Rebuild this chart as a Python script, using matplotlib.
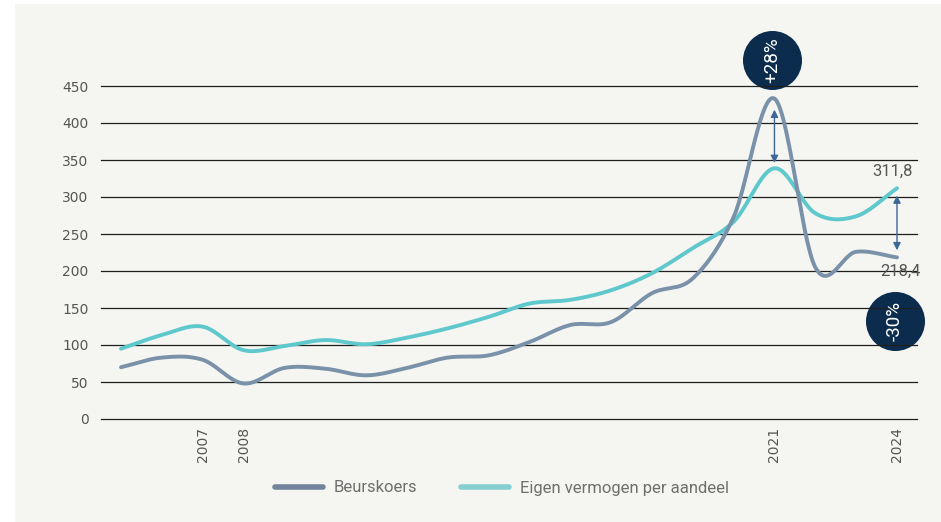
import numpy as np
import matplotlib
matplotlib.use("Agg")
import matplotlib.pyplot as plt
from matplotlib.lines import Line2D

years = list(range(2005, 2025))
beurskoers = [70, 83, 80, 48, 69, 68, 59, 69, 83, 86, 104, 127, 131, 170, 190, 273, 433, 205, 226, 218.4]
eigen_vermogen = [95, 113.5, 124.8, 93, 98.6, 106.7, 101, 110, 122.5, 138, 156, 161, 174, 197, 231, 266.6, 338.8, 278, 274, 311.8]
tick_years = [2007, 2008, 2021, 2024]
y_ticks = [0, 50, 100, 150, 200, 250, 300, 350, 400, 450]
series_names = ["Beurskoers", "Eigen vermogen per aandeel"]
badges = [("+28%", 2021, 485), ("-30%", 2024, 132)]
end_labels = [("311,8", 2024, 311.8), ("218,4", 2024, 218.4)]


def catmull_rom(x, y, n=30):
    x = np.asarray(x, float)
    y = np.asarray(y, float)
    m = np.empty_like(y)
    m[1:-1] = (y[2:] - y[:-2]) / 2
    m[0] = y[1] - y[0]
    m[-1] = y[-1] - y[-2]
    xs, ys = [], []
    for i in range(len(x) - 1):
        t = np.linspace(0, 1, n, endpoint=False)
        h00 = 2 * t**3 - 3 * t**2 + 1
        h10 = t**3 - 2 * t**2 + t
        h01 = -2 * t**3 + 3 * t**2
        h11 = t**3 - t**2
        xs.append(x[i] + t * (x[i + 1] - x[i]))
        ys.append(h00 * y[i] + h10 * m[i] + h01 * y[i + 1] + h11 * m[i + 1])
    xs.append([x[-1]])
    ys.append([y[-1]])
    return np.concatenate(xs), np.concatenate(ys)


plt.rcParams['font.family'] = ['DejaVu Sans']

fig = plt.figure(figsize=(9.41, 5.22), dpi=100)
fig.patch.set_facecolor('white')
bg = plt.Rectangle((15 / 941, 0), 1 - 15 / 941, 1 - 4 / 522, transform=fig.transFigure,
                   facecolor='#f5f5f1', edgecolor='none', zorder=-10)
fig.patches.append(bg)

ax = fig.add_axes([101 / 941, (522 - 419) / 522, 816 / 941, 333 / 522])
ax.set_facecolor('none')
ax.set_xlim(2004.51, 2024.49)
ax.set_ylim(0, 450)

for s in ax.spines.values():
    s.set_visible(False)

ax.set_yticks(y_ticks)
ax.set_yticklabels([str(v) for v in y_ticks], color='#555555', fontsize=10)
ax.tick_params(axis='y', length=0, pad=9)
for v in y_ticks:
    ax.axhline(v, color='#1e1e1e', lw=0.9, zorder=3, clip_on=False)

ax.set_xticks(tick_years)
ax.set_xticklabels([str(t) for t in tick_years], rotation=90, color='#555555', fontsize=10)
ax.tick_params(axis='x', length=0, pad=6)

c_beurs = '#7a91aa'
c_eigen = '#5ec8cc'

xs, ys = catmull_rom(years, eigen_vermogen)
ax.plot(xs, ys, color=c_eigen, lw=2.8, solid_capstyle='round', zorder=5, clip_on=False)
xs, ys = catmull_rom(years, beurskoers)
ax.plot(xs, ys, color=c_beurs, lw=2.8, solid_capstyle='round', zorder=5, clip_on=False)

# double arrows
arrow_col = '#3b6896'
ax.annotate('', xy=(2021, 418), xytext=(2021, 346),
            arrowprops=dict(arrowstyle='<|-|>', color=arrow_col, lw=1.0, mutation_scale=11,
                            shrinkA=0, shrinkB=0), zorder=6)
ax.annotate('', xy=(2024, 302), xytext=(2024, 228),
            arrowprops=dict(arrowstyle='<|-|>', color=arrow_col, lw=1.0, mutation_scale=11,
                            shrinkA=0, shrinkB=0), zorder=6)

# badges
for txt, bx, by in badges:
    ax.plot([bx - 0.05], [by], marker='o', markersize=42.5, color='#0c2c4d',
            markeredgewidth=0, zorder=2, clip_on=False)
    ax.text(bx - 0.05, by, txt, rotation=90, color='white', fontsize=13.5,
            family=['Roboto', 'DejaVu Sans'],
            ha='center', va='center', zorder=4, clip_on=False)

# end labels
ax.text(2023.9, 335, end_labels[0][0], color='#555555', fontsize=12,
        family=['Roboto', 'DejaVu Sans'], ha='center', va='center')
ax.text(2024.08, 199, end_labels[1][0], color='#555555', fontsize=12,
        family=['Roboto', 'DejaVu Sans'], ha='center', va='center')

handles = [Line2D([0], [0], color='#72839b', lw=4, solid_capstyle='round'),
           Line2D([0], [0], color='#86cfd1', lw=4, solid_capstyle='round')]
fig.legend(handles, series_names, loc='center', bbox_to_anchor=(502 / 941, (522 - 488) / 522),
           ncol=2, frameon=False, handlelength=2.9, handletextpad=0.65,
           columnspacing=2.6, labelcolor='#6e6e6e',
           prop={'family': ['Roboto', 'DejaVu Sans'], 'size': 12})

fig.savefig('out.png', dpi=100, facecolor=fig.get_facecolor())
